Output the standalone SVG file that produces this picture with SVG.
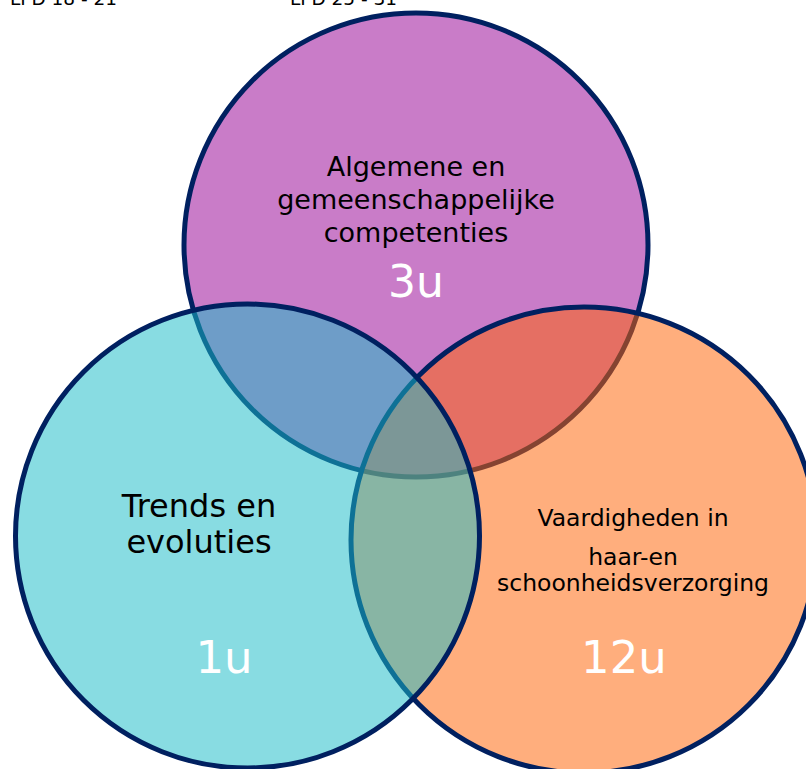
<svg xmlns="http://www.w3.org/2000/svg" width="806" height="769" viewBox="0 0 806 769">
<style>
.c{stroke:#002060;stroke-width:5}
.t{font-family:"DejaVu Sans",Verdana,sans-serif;fill:#000;text-anchor:middle}
.n{font-family:"DejaVu Sans",Verdana,sans-serif;fill:#fff;text-anchor:middle}
</style>
<rect width="806" height="769" fill="#fff"/>
<g id="lpd">
<text x="10" y="5" font-family="DejaVu Sans, sans-serif" font-size="18.5" fill="#000">LPD 18 - 21</text>
<text x="290" y="5" font-family="DejaVu Sans, sans-serif" font-size="18.5" fill="#000">LPD 25 - 31</text>
</g>
<g id="algemeen">
<circle class="c" cx="416" cy="245" r="232" fill="#C97CC8"/>
<text class="t" font-size="27" x="416" y="176">Algemene en</text>
<text class="t" font-size="27" x="416" y="209">gemeenschappelijke</text>
<text class="t" font-size="27" x="416" y="242">competenties</text>
<text class="n" font-size="44" x="416" y="297">3u</text>
</g>
<g id="vaardigheden">
<circle class="c" cx="584" cy="540" r="233" fill="rgb(255,100,5)" fill-opacity="0.52"/>
<text class="t" font-size="23.5" x="633" y="526">Vaardigheden in</text>
<text class="t" font-size="23.5" x="633" y="565">haar-en</text>
<text class="t" font-size="23.5" x="633" y="591">schoonheidsverzorging</text>
<text class="n" font-size="45" x="624" y="673">12u</text>
</g>
<g id="trends">
<circle class="c" cx="247.5" cy="536" r="232" fill="rgb(26,188,199)" fill-opacity="0.52"/>
<text class="t" font-size="32" x="199" y="517">Trends en</text>
<text class="t" font-size="32" x="199" y="553">evoluties</text>
<text class="n" font-size="45" x="224" y="673">1u</text>
</g>
</svg>
